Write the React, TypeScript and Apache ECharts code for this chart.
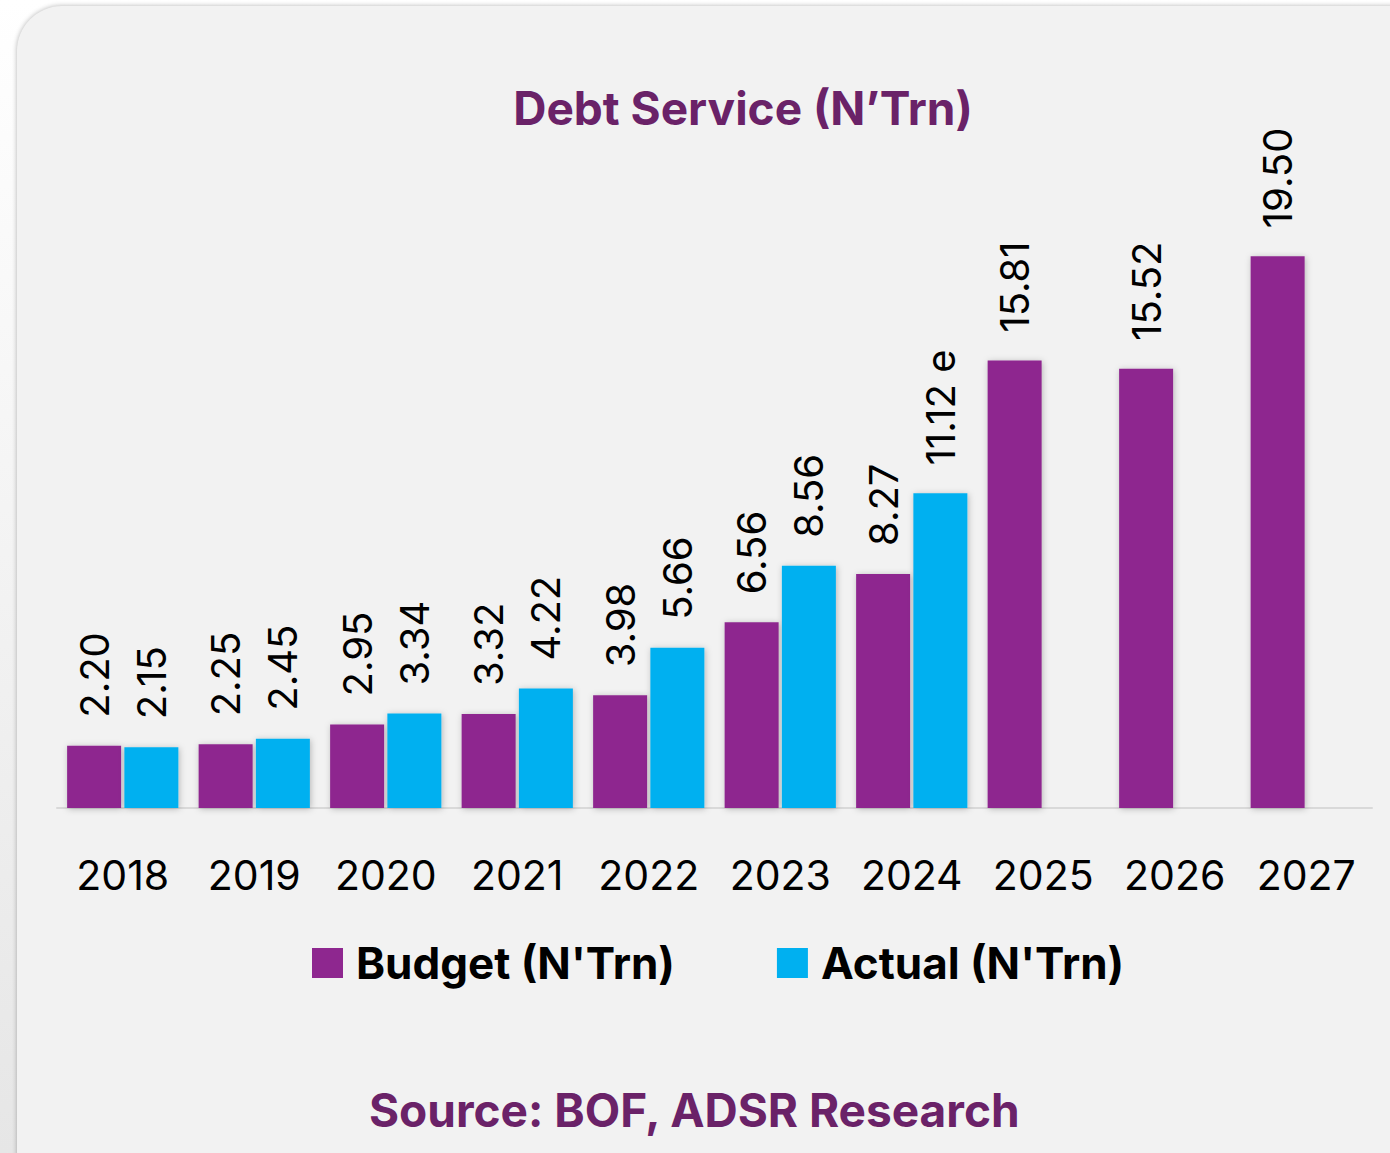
import React, { useEffect, useRef } from "react";
import * as echarts from "echarts";

const years = ["2018", "2019", "2020", "2021", "2022", "2023", "2024", "2025", "2026", "2027"];
const budget = [2.2, 2.25, 2.95, 3.32, 3.98, 6.56, 8.27, 15.81, 15.52, 19.5];
const actual: (number | null)[] = [2.15, 2.45, 3.34, 4.22, 5.66, 8.56, 11.12, null, null, null];
const actualSuffix = ["", "", "", "", "", "", " e", "", "", ""];

const FONT = "Inter, 'Noto Sans', sans-serif";

export default function App() {
  const ref = useRef<HTMLDivElement>(null);
  useEffect(() => {
    document.body.style.margin = "0";
    const chart = echarts.init(ref.current!, null, { renderer: "svg" });
    const labelBase = {
      show: true,
      position: "top" as const,
      rotate: 90,
      distance: 28,
      align: "left" as const,
      verticalAlign: "middle" as const,
      fontFamily: FONT,
      fontSize: 40,
      color: "#000",
    };
    chart.setOption({
      animation: false,
      title: {
        text: "Debt Service (N\u2019Trn)",
        left: 738,
        textAlign: "center",
        top: 80,
        textStyle: { fontFamily: FONT, fontWeight: "bold", fontSize: 46, color: "#6a2268" },
      },
      legend: {
        data: ["Budget (N'Trn)", "Actual (N'Trn)"],
        left: 307,
        top: 936,
        itemWidth: 31,
        itemHeight: 30,
        itemGap: 102,
        icon: "rect",
        textStyle: {
          fontFamily: FONT,
          fontWeight: "bold",
          fontSize: 44,
          color: "#000",
          padding: [0, 0, 0, 8],
        },
      },
      graphic: [
        {
          type: "text",
          left: "center",
          top: 1087,
          style: {
            text: "Source: BOF, ADSR Research",
            fontFamily: FONT,
            fontWeight: "bold",
            fontSize: 46,
            fill: "#6a2268",
          },
        },
      ],
      grid: { left: 57, right: 18, top: 242, bottom: 345, containLabel: false },
      xAxis: {
        type: "category",
        data: years,
        axisLine: { lineStyle: { color: "#d9d9d9", width: 2 } },
        axisTick: { show: false },
        axisLabel: { fontFamily: FONT, fontSize: 41, color: "#000", margin: 46, interval: 0 },
      },
      yAxis: {
        type: "value",
        min: 0,
        max: 20,
        show: false,
        splitLine: { show: false },
      },
      series: [
        {
          name: "Budget (N'Trn)",
          type: "bar",
          data: budget,
          barWidth: 54,
          barGap: "6%",
          itemStyle: {
            color: "#8e278f",
            shadowColor: "rgba(0,0,0,0.25)",
            shadowBlur: 6,
            shadowOffsetX: 1,
            shadowOffsetY: 1,
          },
          label: { ...labelBase, formatter: (p: any) => budget[p.dataIndex].toFixed(2) },
        },
        {
          name: "Actual (N'Trn)",
          type: "bar",
          data: actual,
          barWidth: 54,
          itemStyle: {
            color: "#00b0f0",
            shadowColor: "rgba(0,0,0,0.25)",
            shadowBlur: 6,
            shadowOffsetX: 1,
            shadowOffsetY: 1,
          },
          label: {
            ...labelBase,
            formatter: (p: any) => (actual[p.dataIndex] as number).toFixed(2) + actualSuffix[p.dataIndex],
          },
        },
      ],
    });
    return () => chart.dispose();
  }, []);
  return (
    <div
      style={{
        position: "fixed",
        left: 0,
        top: 0,
        width: 1390,
        height: 1153,
        overflow: "hidden",
        background: "linear-gradient(#ffffff, #e6e6e6)",
      }}
    >
      <div
        style={{
          position: "absolute",
          left: 17,
          top: 6,
          width: 1420,
          height: 1190,
          background: "#f2f2f2",
          borderRadius: 45,
          boxShadow: "0 0 5px rgba(0,0,0,0.3)",
        }}
      />
      <div ref={ref} style={{ position: "absolute", left: 0, top: 0, width: 1390, height: 1153 }} />
    </div>
  );
}
